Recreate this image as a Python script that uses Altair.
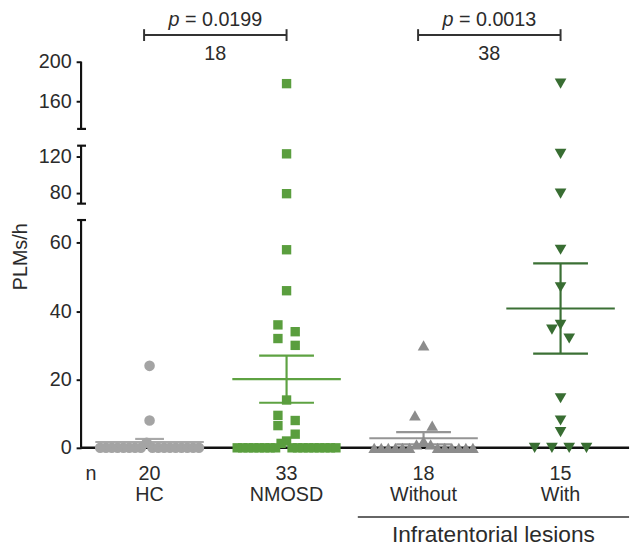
import altair as alt
import numpy as np
import pandas as pd

# ---------------- data ----------------
groups = ["HC", "NMOSD", "Without", "With"]
n_counts = ["20", "33", "18", "15"]

hc_vals = [24, 8, 1.5, 0, 0, 0, 0, 0, 0, 0, 0, 0, 0, 0, 0, 0, 0, 0, 0, 0]
nmosd_vals = [178, 123, 79, 58, 46, 36, 34, 32, 30, 14, 9.5, 8, 6.5, 4, 2, 1.3,
              0, 0, 0, 0, 0, 0, 0, 0, 0, 0, 0, 0, 0, 0, 0, 0, 0]
without_vals = [30, 9.5, 6.5, 2, 1, 1, 0, 0, 0, 0, 0, 0, 0, 0, 0, 0, 0, 0]
with_vals = [178, 123, 79, 58, 47, 36, 34.6, 32, 14.5, 8, 4.6, 0, 0, 0, 0]

group_means = [1.7, 20.1, 2.8, 40.8]
group_sems = [0.9, 6.9, 1.8, 13.2]

p_values = ["= 0.0199", "= 0.0013"]
p_counts = ["18", "38"]
p_pairs = [(0, 1), (2, 3)]

y_ticks = [0, 20, 40, 60, 80, 120, 160, 200]
axis_segments_lo = [0, 68, 132.5]
axis_segments_hi = [66.7, 132, 200]

# ---------------- style / layout ----------------
FONT = "Liberation Sans"
TXT = "#2b2b2b"
W, H = 555, 539
Y_DOMAIN = [0, 66.7, 68, 132, 132.5, 200]
Y_RANGE = [442, 211.3, 194.7, 136, 119, 51]
PX_PER_UNIT = W / 4.0

shapes = ["circle", "square", "triangle-up", "triangle-down"]
sizes = [115, 90, 140, 140]
point_colors = ["#a4a4a4", "#5a9e3e", "#8c8c8c", "#386d32"]
line_colors = ["#a8a8a8", "#5ea242", "#959595", "#3b7035"]
cap_half = [0.105, 0.2, 0.2, 0.2]
mean_half = 0.396

yscale = alt.Scale(domain=Y_DOMAIN, range=Y_RANGE, zero=False, nice=False)
xscale = alt.Scale(domain=[-0.5, 3.5], zero=False, nice=False)
yaxis = alt.Axis(values=y_ticks, domain=False, grid=False, tickSize=5,
                 tickWidth=2, tickColor="#111111", labelFont=FONT,
                 labelFontSize=20, labelColor=TXT, labelPadding=5,
                 labelFlush=False, labelOverlap=False,
                 title="PLMs/h", titleFont=FONT, titleFontSize=20,
                 titleFontWeight="normal", titleColor=TXT, titleX=-61,
                 titleY=248, titleAngle=270, titleAlign="center",
                 titleBaseline="middle")


def Y(field):
    return alt.Y(field, scale=yscale, axis=yaxis)


def X(field):
    return alt.X(field, scale=xscale, axis=None)


def swarm(vals, thr=11.0, gap=17.5, half=50.0):
    v = np.asarray(vals, dtype=float)
    ypx = np.interp(v, Y_DOMAIN, Y_RANGE)
    order = np.argsort(v, kind="stable")
    rows = []
    for i in order:
        if rows and abs(ypx[i] - ypx[rows[-1][0]]) < thr:
            rows[-1].append(i)
        else:
            rows.append([i])
    off = np.zeros(len(v))
    for r in rows:
        k = len(r)
        if k == 1:
            continue
        sp = min(gap, 2 * half / (k - 1))
        slots = sorted([(j - (k - 1) / 2.0) for j in range(k)], key=lambda s: (abs(s), s))
        # highest values take the central slots
        r_desc = sorted(r, key=lambda i: -v[i])
        for s, i in zip(slots, r_desc):
            off[i] = s * sp / PX_PER_UNIT
    return off


all_vals = [hc_vals, nmosd_vals, without_vals, with_vals]

layers = []

# axis segments (broken y axis)
seg_df = pd.DataFrame({"lo": axis_segments_lo, "hi": axis_segments_hi})
layers.append(
    alt.Chart(seg_df).mark_rule(color="#111111", strokeWidth=2.2).encode(
        x=alt.value(0), y=Y("lo:Q"), y2="hi:Q",
    )
)
cap_df = pd.DataFrame({"v": [66.7, 68, 132, 132.5]})
layers.append(
    alt.Chart(cap_df).mark_rule(color="#111111", strokeWidth=2.2).encode(
        x=alt.value(-4), x2=alt.value(5), y=Y("v:Q"),
    )
)

# zero line (x axis)
layers.append(
    alt.Chart(pd.DataFrame({"z": [0]})).mark_rule(color="#111111", strokeWidth=2.5).encode(
        x=alt.value(0), x2=alt.value(W), y=Y("z:Q"),
    )
)

# mean / SEM lines
for gi, g in enumerate(groups):
    m = group_means[gi]
    s = group_sems[gi]
    ldf = pd.DataFrame({
        "xm0": [gi - mean_half], "xm1": [gi + mean_half],
        "xc0": [gi - cap_half[gi]], "xc1": [gi + cap_half[gi]],
        "xi": [gi], "m": [m], "lo": [max(m - s, 0)], "hi": [m + s],
    })
    base = alt.Chart(ldf)
    col = line_colors[gi]
    layers.append(base.mark_rule(color=col, strokeWidth=2.2).encode(
        x=X("xm0:Q"), x2="xm1:Q", y=Y("m:Q")))
    layers.append(base.mark_rule(color=col, strokeWidth=2.2).encode(
        x=X("xc0:Q"), x2="xc1:Q", y=Y("hi:Q")))
    layers.append(base.mark_rule(color=col, strokeWidth=2.2).encode(
        x=X("xc0:Q"), x2="xc1:Q", y=Y("lo:Q")))
    layers.append(base.mark_rule(color=col, strokeWidth=2.2).encode(
        x=X("xi:Q"), y=Y("lo:Q"), y2="hi:Q"))

# points
for gi, g in enumerate(groups):
    vals = all_vals[gi]
    off = swarm(vals)
    pdf = pd.DataFrame({"value": vals, "xpos": gi + off})
    layers.append(
        alt.Chart(pdf).mark_point(shape=shapes[gi], filled=True, size=sizes[gi],
                                  color=point_colors[gi], opacity=1, strokeWidth=0).encode(
            x=X("xpos:Q"), y=Y("value:Q"),
        )
    )

# bottom labels
lab_df = pd.DataFrame({"xi": list(range(len(groups))), "n": n_counts, "g": groups})
layers.append(alt.Chart(lab_df).mark_text(font=FONT, fontSize=20, color=TXT, baseline="alphabetic").encode(
    x=X("xi:Q"), y=alt.value(475), text="n:N"))
layers.append(alt.Chart(lab_df).mark_text(font=FONT, fontSize=20, color=TXT, baseline="alphabetic").encode(
    x=X("xi:Q"), y=alt.value(496), text="g:N"))
layers.append(alt.Chart(pd.DataFrame({"t": ["n"]})).mark_text(
    font=FONT, fontSize=20, color=TXT, baseline="alphabetic").encode(
    x=alt.value(10), y=alt.value(475), text="t:N"))

# Infratentorial lesions group line + label
inf_df = pd.DataFrame({"x0": [1.52], "xc": [2.51], "t": ["Infratentorial lesions"]})
layers.append(alt.Chart(inf_df).mark_rule(color="#333333", strokeWidth=1.5).encode(
    x=X("x0:Q"), x2=alt.value(W), y=alt.value(512)))
layers.append(alt.Chart(inf_df).mark_text(font=FONT, fontSize=23, color=TXT, baseline="alphabetic").encode(
    x=X("xc:Q"), y=alt.value(537), text="t:N"))

# significance brackets
br_df = pd.DataFrame({
    "x0": [a - 0.04 for a, b in p_pairs],
    "x1": [b + 0.0 for a, b in p_pairs],
    "xm": [(a - 0.04 + b) / 2 for a, b in p_pairs],
    "p": p_values, "nn": p_counts, "pi": ["p", "p"],
})
bb = alt.Chart(br_df)
layers.append(bb.mark_rule(color="#333333", strokeWidth=2).encode(
    x=X("x0:Q"), x2="x1:Q", y=alt.value(24)))
layers.append(bb.mark_rule(color="#333333", strokeWidth=2).encode(
    x=X("x0:Q"), y=alt.value(18), y2=alt.value(30)))
layers.append(bb.mark_rule(color="#333333", strokeWidth=2).encode(
    x=X("x1:Q"), y=alt.value(18), y2=alt.value(30)))
layers.append(bb.mark_text(font=FONT, fontSize=20, color=TXT, align="left", dx=-47.5,
                           fontStyle="italic", baseline="alphabetic").encode(
    x=X("xm:Q"), y=alt.value(15), text="pi:N"))
layers.append(bb.mark_text(font=FONT, fontSize=20, color=TXT, align="left", dx=-30.8,
                           baseline="alphabetic").encode(
    x=X("xm:Q"), y=alt.value(15), text="p:N"))
layers.append(bb.mark_text(font=FONT, fontSize=20, color=TXT, align="center",
                           baseline="alphabetic").encode(
    x=X("xm:Q"), y=alt.value(49), text="nn:N"))

chart = alt.layer(*layers).properties(
    width=W, height=H,
    padding={"left": 74, "top": 0, "right": 5, "bottom": 0},
    autosize=alt.AutoSizeParams(type="none"),
    background="white",
).configure_view(stroke=None)

chart.save("out.html", embed_options={"renderer": "svg", "actions": False})
